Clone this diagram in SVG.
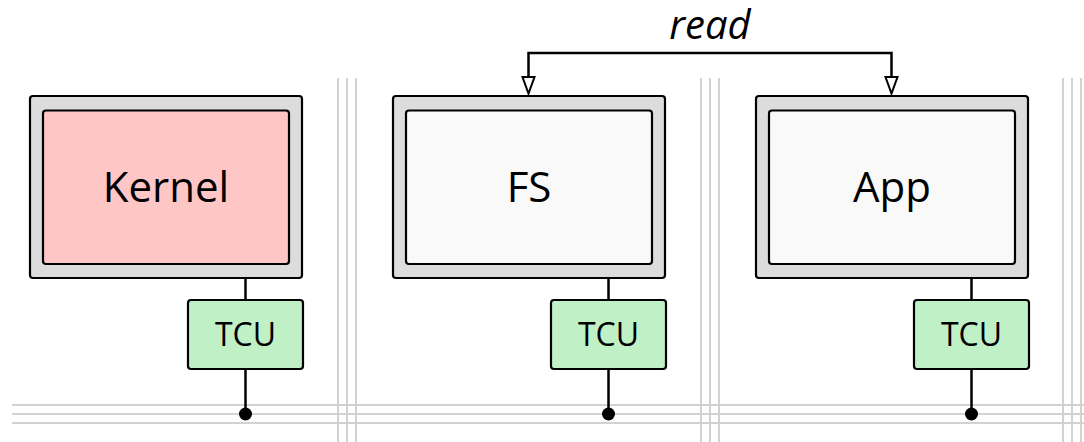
<svg xmlns="http://www.w3.org/2000/svg" width="1084" height="442" viewBox="0 0 1084 442">
  <defs>
    <style>
      .grid { stroke: #d2d2d2; stroke-width: 2; fill: none; }
      .outer { fill: #dcdcdc; stroke: #000; stroke-width: 2.2; }
      .inner { stroke: #000; stroke-width: 2.2; }
      .pe { fill: #f9f9f9; }
      .kern { fill: #ffc6c6; }
      .tcu { fill: #c0f0c6; stroke: #000; stroke-width: 2.2; }
      .wire { stroke: #000; stroke-width: 2.5; fill: none; }
      .head { fill: #fff; stroke: #000; stroke-width: 2; }
      .lbl { font-family: "Open Sans", "Noto Sans", "DejaVu Sans", sans-serif; fill: #000; text-anchor: middle; }
      .big { font-size: 42px; }
      .small { font-size: 32px; }
      .it { font-size: 40px; font-style: italic; }
    </style>
  </defs>

  <!-- network-on-chip grid -->
  <g id="noc">
    <line class="grid" x1="12" y1="405" x2="1084" y2="405"/>
    <line class="grid" x1="12" y1="414" x2="1084" y2="414"/>
    <line class="grid" x1="12" y1="423" x2="1084" y2="423"/>
    <line class="grid" x1="338" y1="78" x2="338" y2="442"/>
    <line class="grid" x1="347" y1="78" x2="347" y2="442"/>
    <line class="grid" x1="356" y1="78" x2="356" y2="442"/>
    <line class="grid" x1="701" y1="78" x2="701" y2="442"/>
    <line class="grid" x1="710" y1="78" x2="710" y2="442"/>
    <line class="grid" x1="719" y1="78" x2="719" y2="442"/>
    <line class="grid" x1="1063" y1="78" x2="1063" y2="442"/>
    <line class="grid" x1="1072" y1="78" x2="1072" y2="442"/>
    <line class="grid" x1="1081" y1="78" x2="1081" y2="442"/>
  </g>

  <!-- connectors -->
  <g id="connectors">
    <line class="wire" x1="245.5" y1="279" x2="245.5" y2="300"/>
    <line class="wire" x1="245.5" y1="369" x2="245.5" y2="414"/>
    <circle cx="245.5" cy="414" r="6.5" fill="#000"/>
    <line class="wire" x1="608.5" y1="279" x2="608.5" y2="300"/>
    <line class="wire" x1="608.5" y1="369" x2="608.5" y2="414"/>
    <circle cx="608.5" cy="414" r="6.5" fill="#000"/>
    <line class="wire" x1="971.5" y1="279" x2="971.5" y2="300"/>
    <line class="wire" x1="971.5" y1="369" x2="971.5" y2="414"/>
    <circle cx="971.5" cy="414" r="6.5" fill="#000"/>
    <path class="wire" d="M528.5,78 L528.5,53 L891.5,53 L891.5,78"/>
    <path class="head" d="M522.5,77 L534.5,77 L528.5,93.5 Z"/>
    <path class="head" d="M885.5,77 L897.5,77 L891.5,93.5 Z"/>
    <text class="lbl it" x="710" y="39">read</text>
  </g>

  <!-- kernel tile -->
  <g id="kernel">
    <rect class="outer" x="30" y="96" width="272" height="182" rx="3"/>
    <rect class="inner kern" x="43" y="110.5" width="246" height="153.5" rx="3"/>
    <text class="lbl big" x="166" y="202">Kernel</text>
  </g>
  <g id="tcu-kernel">
    <rect class="tcu" x="188" y="300" width="115" height="69" rx="3"/>
    <text class="lbl small" x="245.5" y="346">TCU</text>
  </g>

  <!-- file system tile -->
  <g id="fs">
    <rect class="outer" x="393" y="96" width="272" height="182" rx="3"/>
    <rect class="inner pe" x="406" y="110.5" width="246" height="153.5" rx="3"/>
    <text class="lbl big" x="529" y="202">FS</text>
  </g>
  <g id="tcu-fs">
    <rect class="tcu" x="551" y="300" width="115" height="69" rx="3"/>
    <text class="lbl small" x="608.5" y="346">TCU</text>
  </g>

  <!-- application tile -->
  <g id="app">
    <rect class="outer" x="756" y="96" width="272" height="182" rx="3"/>
    <rect class="inner pe" x="769" y="110.5" width="246" height="153.5" rx="3"/>
    <text class="lbl big" x="892" y="202">App</text>
  </g>
  <g id="tcu-app">
    <rect class="tcu" x="914" y="300" width="115" height="69" rx="3"/>
    <text class="lbl small" x="971.5" y="346">TCU</text>
  </g>
</svg>
